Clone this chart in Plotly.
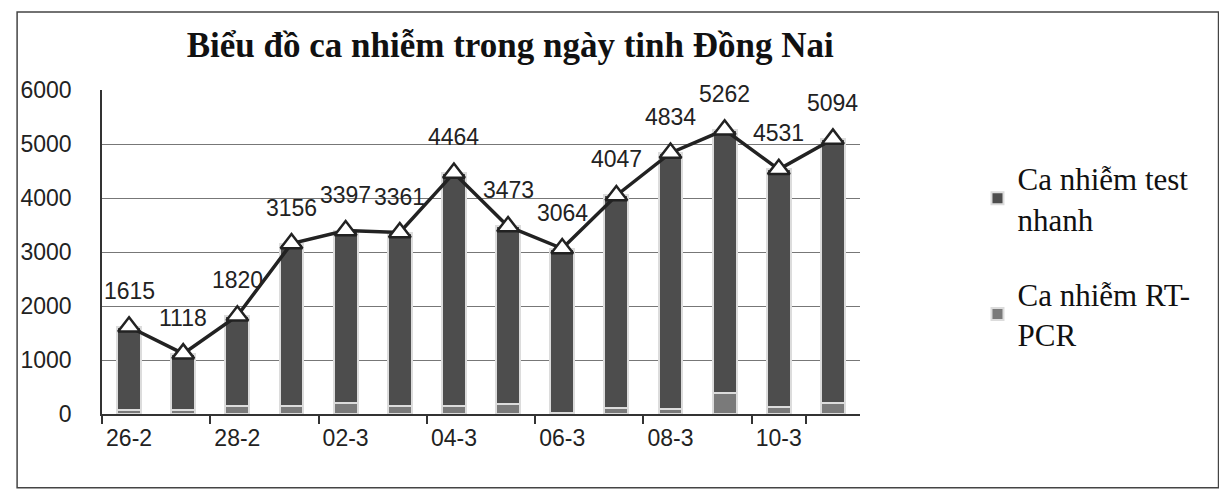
import plotly.graph_objects as go

dates = ["26-2", "27-2", "28-2", "01-3", "02-3", "03-3", "04-3", "05-3",
         "06-3", "07-3", "08-3", "09-3", "10-3", "11-3"]
totals = [1615, 1118, 1820, 3156, 3397, 3361, 4464, 3473, 3064, 4047, 4834, 5262, 4531, 5094]
rt_pcr = [80, 70, 140, 150, 200, 150, 150, 180, 10, 120, 90, 380, 130, 200]
test_nhanh = [t - r for t, r in zip(totals, rt_pcr)]

tick_every = 2
ytick_vals = [0, 1000, 2000, 3000, 4000, 5000, 6000]

fig = go.Figure()
fig.add_trace(go.Bar(
    x=dates, y=rt_pcr, name="Ca nhiễm RT-<br>PCR", legendrank=2, legendgroup="b",
    marker=dict(color="#7a7a7a", line=dict(color="#dcdcdc", width=2)), width=0.44,
))
fig.add_trace(go.Bar(
    x=dates, y=test_nhanh, name="Ca nhiễm test<br>nhanh", legendrank=1, legendgroup="a",
    marker=dict(color="#4d4d4d", line=dict(color="#dcdcdc", width=2)), width=0.44,
))
fig.add_trace(go.Scatter(
    x=dates, y=totals, mode="lines+markers", showlegend=False,
    line=dict(color="#222222", width=3.5),
    marker=dict(symbol="triangle-up", size=19, color="white",
                line=dict(color="#222222", width=2.5)),
))
for d, t in zip(dates, totals):
    fig.add_annotation(x=d, y=t, text=str(t), showarrow=False, yshift=36,
                       font=dict(family="Liberation Sans, Arial", size=23, color="#222"))

fig.update_layout(
    width=1219, height=487,
    margin=dict(l=87, r=367, t=82, b=81),
    paper_bgcolor="white", plot_bgcolor="white",
    barmode="stack", bargap=0.56,
    title=dict(text="<b>Biểu đồ ca nhiễm trong ngày tinh Đồng Nai</b>",
               x=0.412, xanchor="center", y=0.924, yanchor="middle",
               font=dict(family="Liberation Serif, Times New Roman", size=35, color="#111")),
    legend=dict(x=1.155, y=0.81, xanchor="left", yanchor="top",
                traceorder="grouped", tracegroupgap=32,
                font=dict(family="Liberation Serif, Times New Roman", size=31, color="#111"),
                itemwidth=30),
    xaxis=dict(type="category", tickmode="array", tickvals=dates[::tick_every],
               ticktext=dates[::tick_every], tickson="boundaries", tickangle=0,
               ticks="outside", ticklen=8, tickcolor="#333", tickwidth=1.5,
               showline=True, linecolor="#333", linewidth=1.5, showgrid=False,
               range=[-0.5, len(dates) - 0.5], ticklabelstandoff=3,
               tickfont=dict(family="Liberation Sans, Arial", size=23, color="#222")),
    yaxis=dict(range=[0, 6000], tickvals=ytick_vals, showgrid=True,
               gridcolor="#777", gridwidth=1.3, showline=True, linecolor="#333",
               linewidth=1.5, ticks="", ticklabelstandoff=24, zeroline=False,
               tickfont=dict(family="Liberation Sans, Arial", size=23, color="#222")),
    shapes=[dict(type="rect", xref="paper", yref="paper",
                 x0=-0.112, x1=1.473, y0=-0.228, y1=1.2407,
                 line=dict(color="#444", width=1.5))],
)
fig.write_html("out.html")
